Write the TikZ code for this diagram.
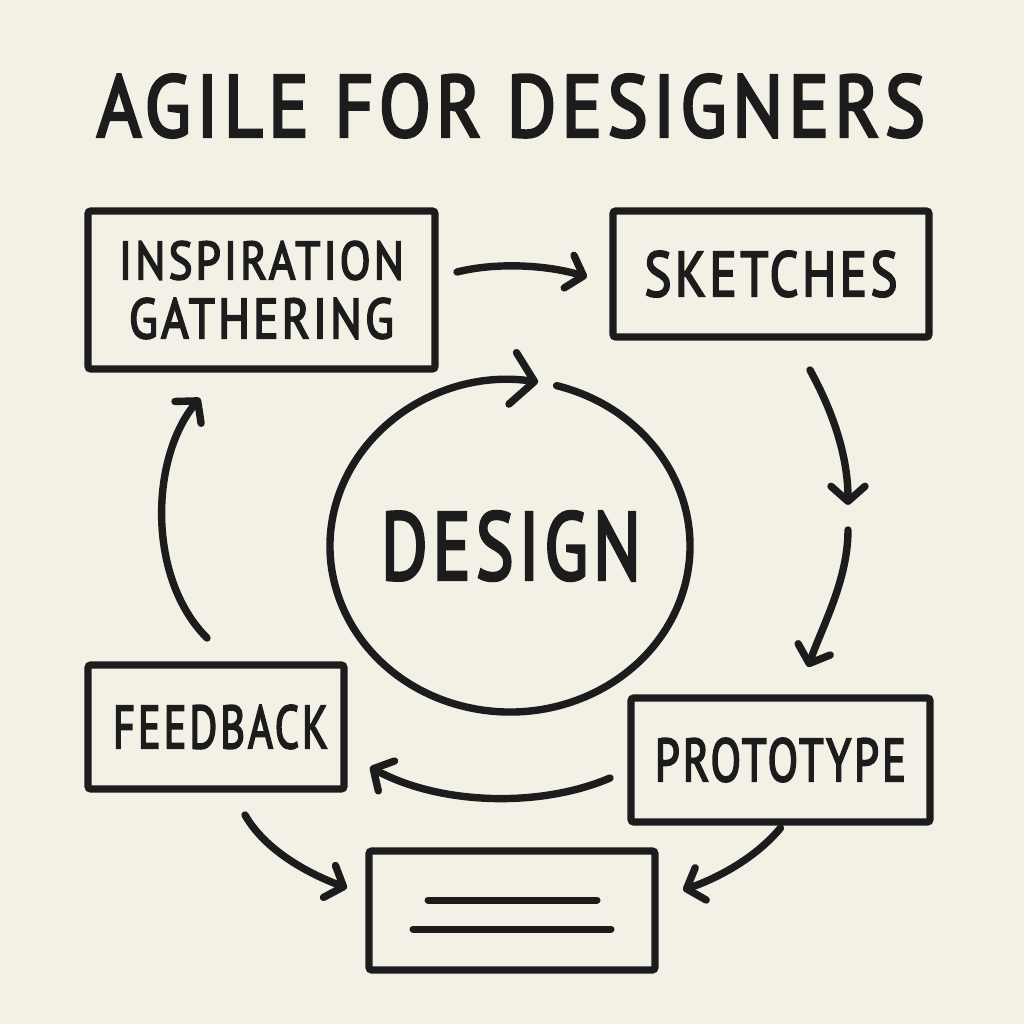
\documentclass[tikz,border=0pt]{standalone}
\usepackage{fontspec}
\setmainfont{PT Sans}
\newfontfamily\hand[FakeBold=3.5,LetterSpace=7]{PT Sans}
\usetikzlibrary{arrows.meta,calc}
\definecolor{paper}{HTML}{F3F0E6}
\definecolor{ink}{HTML}{1C1C1C}
\begin{document}
\begin{tikzpicture}[x=0.5pt,y=-0.5pt,
  box/.style={draw=ink, line width=3.7pt, rounded corners=1.5pt, outer sep=0pt, inner sep=0pt, text=ink},
  lbl/.style={text=ink, inner sep=0pt, outer sep=0pt},
  arr/.style={draw=ink, line width=3.7pt, line cap=round, -{Straight Barb[length=7.5pt,width=17pt,round]}},
  bigarr/.style={draw=ink, line width=3.7pt, line cap=round, -{Straight Barb[length=11pt,width=26pt,round]}},
  rule/.style={draw=ink, line width=3.5pt, line cap=round}]
\fill[paper] (0,0) rectangle (1024,1024);
\useasboundingbox (0,0) rectangle (1024,1024);

% title
\node[lbl, font=\hand] (title) at (511,106) {\resizebox{414pt}{31pt}{AGILE FOR DESIGNERS}};

% boxes
\node[box, minimum width=173.5pt, minimum height=79pt, align=center,
      font=\hand\fontsize{20pt}{29.5pt}\selectfont] (insp) at (261.5,290)
      {\resizebox{142.5pt}{19pt}{INSPIRATION}\\\resizebox{132.5pt}{20pt}{GATHERING}};
\node[box, minimum width=158pt, minimum height=63pt, font=\hand] (sketch) at (771,274)
      {\resizebox{126.5pt}{22.5pt}{SKETCHES}};
\node[box, minimum width=128pt, minimum height=62pt, font=\hand] (feed) at (216,727)
      {\hspace*{4.5pt}\resizebox{107.5pt}{21.5pt}{FEEDBACK}};
\node[box, minimum width=149.5pt, minimum height=62pt, font=\hand] (proto) at (780.5,760)
      {\resizebox{125.5pt}{21.5pt}{PROTOTYPE}};
\node[box, minimum width=143pt, minimum height=59.5pt] (bottom) at (512,910.5) {};

% centre
\node[lbl, font=\hand] (design) at (511,546) {\resizebox{130pt}{34pt}{DESIGN}};
\draw[bigarr] ($(design.center)+(-1,0)$) ++(-75:180 and 166)
      arc[start angle=-75, end angle=279, x radius=180, y radius=166];

% lines in bottom box
\draw[rule] ($(bottom.center)+(-84,-10.5)$) -- ($(bottom.center)+(85,-10.5)$);
\draw[rule] ($(bottom.center)+(-99,18.5)$) -- ($(bottom.center)+(99,18.5)$);

% connectors
\coordinate (midR) at (848,517);
\draw[arr] ($(insp.east)+(22,-18)$) .. controls +(40,-10) and +(-40,-12) .. ($(sketch.west)+(-26,3)$);
\draw[arr] ($(sketch.south)+(39,33)$) .. controls +(22,40) and +(0,-50) .. ($(midR)+(0,-12)$);
\draw[arr] ($(midR)+(0,13)$) .. controls +(0,50) and +(14,-40) .. ($(proto.north)+(27.5,-31)$);
\draw[arr] ($(proto.west)+(-21,18)$) .. controls +(-70,30) and +(70,38) .. ($(feed.east)+(26,40)$);
\draw[arr] ($(feed.north)+(-9,-27)$) .. controls +(-60,-60) and +(-50,60) .. ($(insp.south)+(-61.5,29)$);
\draw[arr] ($(feed.south)+(29,26)$) .. controls +(20,35) and +(-40,-15) .. ($(bottom.west)+(-22,-22.5)$);
\draw[arr] ($(proto.south)+(0,6)$) .. controls +(-25,30) and +(35,-12) .. ($(bottom.east)+(28,-20.5)$);
\end{tikzpicture}
\end{document}
